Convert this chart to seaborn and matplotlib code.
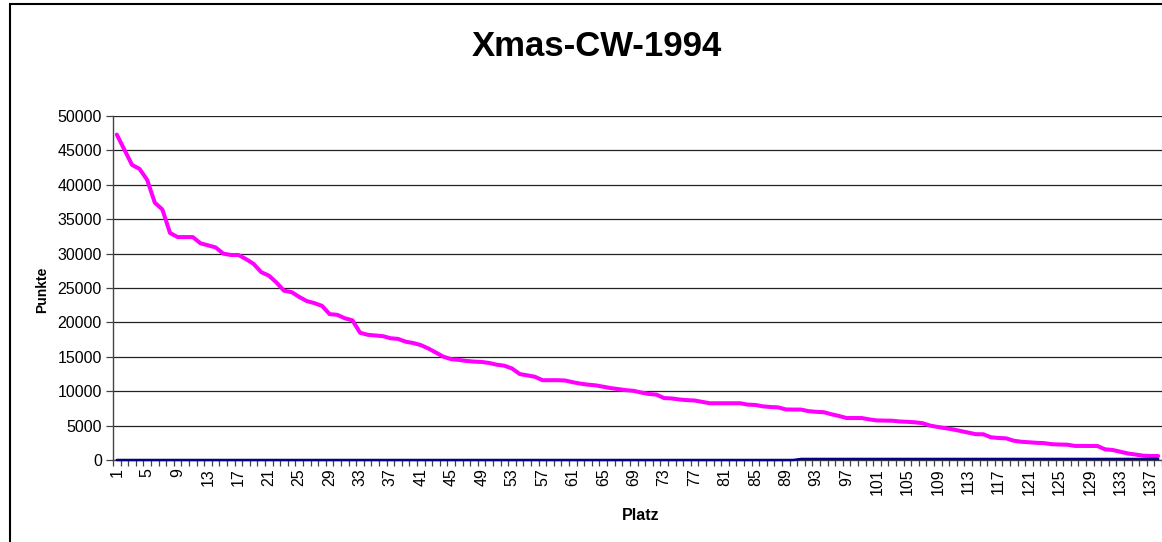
import matplotlib
matplotlib.use("Agg")
import matplotlib.pyplot as plt
import seaborn as sns
import pandas as pd
import numpy as np
from matplotlib.patches import Rectangle
from matplotlib.ticker import FixedLocator

title = "Xmas-CW-1994"
x_label = "Platz"
y_label = "Punkte"

punkte = [
    47300, 45100, 42900, 42300, 40700, 37400, 36400, 33000, 32400, 32400,
    32400, 31500, 31200, 30900, 30000, 29800, 29800, 29200, 28500, 27300,
    26800, 25800, 24600, 24400, 23700, 23100, 22800, 22400, 21200, 21100,
    20600, 20300, 18500, 18200, 18100, 18000, 17700, 17600, 17200, 17000,
    16700, 16200, 15600, 15000, 14650, 14550, 14400, 14300, 14250, 14100,
    13850, 13700, 13300, 12500, 12300, 12100, 11600, 11600, 11600, 11550,
    11300, 11100, 10950, 10850, 10650, 10450, 10300, 10150, 10050, 9800,
    9600, 9500, 9000, 8950, 8800, 8700, 8650, 8450, 8250, 8250,
    8250, 8250, 8250, 8050, 8000, 7800, 7700, 7650, 7350, 7330,
    7330, 7100, 7000, 6950, 6650, 6400, 6100, 6100, 6100, 5900,
    5750, 5730, 5710, 5600, 5550, 5480, 5350, 5000, 4800, 4620,
    4450, 4220, 4000, 3750, 3740, 3300, 3200, 3150, 2800, 2650,
    2570, 2500, 2450, 2300, 2250, 2230, 2050, 2040, 2040, 2040,
    1550, 1460, 1200, 950, 800, 630, 580, 580,
]
zweite = [0] * 90 + [150] * 48
platz = list(range(1, len(punkte) + 1))

df = pd.DataFrame({"Platz": platz, "Punkte": punkte, "Zweite": zweite})

sns.set_style("white")
plt.rcParams["font.family"] = ["Liberation Sans", "DejaVu Sans"]
plt.rcParams["text.color"] = "black"
plt.rcParams["xtick.color"] = "#444444"
plt.rcParams["ytick.color"] = "#444444"
plt.rcParams["xtick.labelcolor"] = "black"
plt.rcParams["ytick.labelcolor"] = "black"

W, H = 1162, 542
fig = plt.figure(figsize=(W / 100, H / 100), dpi=100)
ax = fig.add_axes([113 / W, (H - 460) / H, 1049 / W, 344 / H])

sns.lineplot(data=df, x="Platz", y="Punkte", ax=ax, color="#FF00FF",
             linewidth=2.9, zorder=3, clip_on=False)
sns.lineplot(data=df, x="Platz", y="Zweite", ax=ax, color="#000080",
             linewidth=1.8, zorder=4, clip_on=False)

ax.set_xlim(0.5, len(punkte) + 0.5)
ax.set_ylim(0, 50000)
ax.set_yticks(np.arange(0, 50001, 5000))
ax.set_yticklabels([str(v) for v in range(0, 50001, 5000)], fontsize=11.5)
ax.yaxis.grid(True, color="#222222", linewidth=0.9)
ax.set_axisbelow(True)

major = list(range(1, len(punkte) + 1, 4))
ax.xaxis.set_major_locator(FixedLocator(major))
ax.set_xticklabels([str(v) for v in major], rotation=90, fontsize=11.5)
ax.xaxis.set_minor_locator(FixedLocator(np.arange(0.5, len(punkte) + 1, 1.0)))
ax.tick_params(bottom=True, left=True, which="both")
ax.tick_params(axis="x", which="major", length=0, pad=6)
ax.tick_params(axis="x", which="minor", length=4, width=0.9, direction="out")
ax.tick_params(axis="y", which="major", length=5, width=0.9, direction="out", pad=3)

for s in ["top", "right"]:
    ax.spines[s].set_visible(False)
for s in ["left", "bottom"]:
    ax.spines[s].set_color("#444444")
    ax.spines[s].set_linewidth(1.0)

ax.set_xlabel("")
ax.set_ylabel("")
fig.text(42 / W, 1 - 290 / H, y_label, rotation=90, ha="center", va="center",
         fontsize=10, fontweight="bold")
fig.text(641 / W, 1 - 515 / H, x_label, ha="center", va="center",
         fontsize=11.5, fontweight="bold")
fig.text(597 / W, 1 - 46 / H, title, ha="center", va="center",
         fontsize=25, fontweight="bold")

fig.add_artist(Rectangle((10 / W, -0.05), 1.2, 1.05 - 4 / H,
                         transform=fig.transFigure, fill=False,
                         edgecolor="black", linewidth=1.5))

fig.savefig("out.png", dpi=100)
